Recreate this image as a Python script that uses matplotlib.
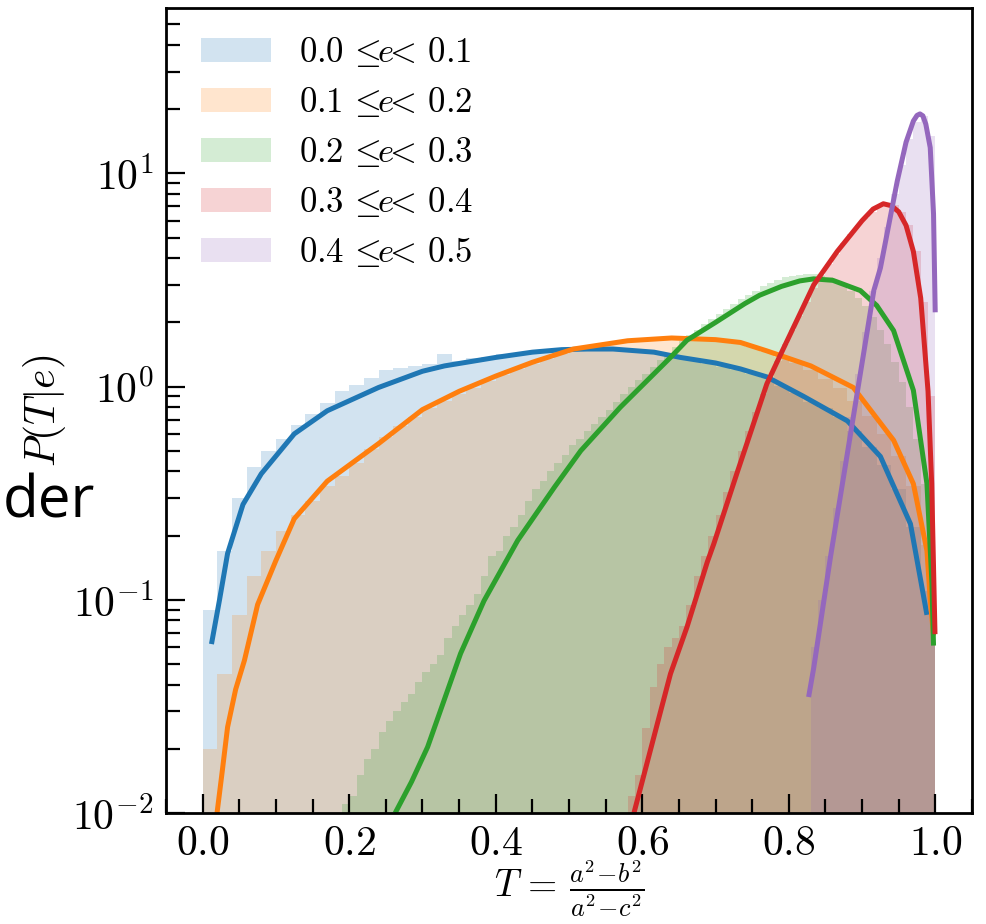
"""P(T|e) histograms with fitted curves, one per eccentricity bin."""

import matplotlib

matplotlib.use("Agg")
import matplotlib.pyplot as plt
from matplotlib.ticker import MultipleLocator

plt.rcParams["mathtext.fontset"] = "cm"
plt.rcParams["font.family"] = "serif"
plt.rcParams["font.serif"] = ["cmr10"]
plt.rcParams["axes.formatter.use_mathtext"] = True

LABELS = [
    r"$0.0\,\leq\!\!e\!\!<\,0.1$",
    r"$0.1\,\leq\!\!e\!\!<\,0.2$",
    r"$0.2\,\leq\!\!e\!\!<\,0.3$",
    r"$0.3\,\leq\!\!e\!\!<\,0.4$",
    r"$0.4\,\leq\!\!e\!\!<\,0.5$",
]
COLORS = ["tab:blue", "tab:orange", "tab:green", "tab:red", "tab:purple"]

# histograms: left edge of first bin, bin width, bin heights
HIST_BLUE_START, HIST_BLUE_W = 0.0, 0.02
HIST_BLUE = [0.09, 0.17, 0.30, 0.42, 0.50, 0.57, 0.66, 0.74, 0.84, 0.95,
             1.02, 1.10, 1.19, 1.22, 1.25, 1.27, 1.42, 1.32, 1.36, 1.38,
             1.42, 1.44, 1.46, 1.48, 1.50, 1.49, 1.50, 1.48, 1.47, 1.46,
             1.44, 1.40, 1.37, 1.33, 1.28, 1.24, 1.20, 1.15, 1.10, 1.01,
             0.93, 0.85, 0.79, 0.72, 0.62, 0.52, 0.43, 0.33, 0.22, 0.11]
HIST_ORANGE_START, HIST_ORANGE_W = 0.0, 0.02
HIST_ORANGE = [0.02, 0.045, 0.085, 0.13, 0.17, 0.21, 0.25, 0.29, 0.34, 0.38,
               0.44, 0.51, 0.58, 0.65, 0.72, 0.79, 0.86, 0.92, 0.99, 1.06,
               1.13, 1.21, 1.28, 1.35, 1.42, 1.48, 1.53, 1.58, 1.61, 1.64,
               1.66, 1.68, 1.68, 1.67, 1.65, 1.62, 1.58, 1.53, 1.46, 1.38,
               1.29, 1.19, 1.09, 0.98, 0.86, 0.73, 0.60, 0.47, 0.34, 0.18]
HIST_GREEN_START, HIST_GREEN_W = 0.19, 0.01
HIST_GREEN = [0.011, 0.012, 0.015, 0.018, 0.020, 0.024, 0.027, 0.030, 0.033, 0.036,
              0.041, 0.046, 0.050, 0.055, 0.066, 0.075, 0.085, 0.095, 0.107, 0.13,
              0.16, 0.17, 0.20, 0.22, 0.25, 0.29, 0.33, 0.36, 0.40, 0.44,
              0.48, 0.53, 0.57, 0.62, 0.67, 0.72, 0.78, 0.85, 0.92, 1.00,
              1.07, 1.15, 1.24, 1.33, 1.43, 1.53, 1.63, 1.74, 1.85, 1.97,
              2.08, 2.20, 2.32, 2.45, 2.58, 2.70, 2.82, 2.95, 3.05, 3.15,
              3.25, 3.30, 3.35, 3.38, 3.38, 3.33, 3.25, 3.12, 2.98, 2.80,
              2.60, 2.38, 2.12, 1.85, 1.58, 1.30, 1.05, 0.80, 0.57, 0.35,
              0.15]
HIST_RED_START, HIST_RED_W = 0.58, 0.01
HIST_RED = [0.012, 0.015, 0.025, 0.039, 0.050, 0.060, 0.066, 0.075, 0.095, 0.13,
            0.16, 0.20, 0.25, 0.32, 0.40, 0.50, 0.62, 0.76, 0.92, 1.10,
            1.32, 1.58, 1.85, 2.15, 2.50, 2.90, 3.30, 3.75, 4.20, 4.70,
            5.20, 5.70, 6.20, 6.60, 7.00, 7.20, 7.10, 6.60, 5.70, 4.30,
            2.50, 0.90]
HIST_PURPLE_START, HIST_PURPLE_W = 0.83, 0.01
HIST_PURPLE = [0.06, 0.10, 0.16, 0.27, 0.45, 0.72, 1.15, 1.80, 2.80, 4.00,
               5.60, 8.00, 11.0, 14.5, 17.5, 18.5, 15.0]

# fitted curves
FIT_BLUE_T = [0.012, 0.023, 0.034, 0.055, 0.080, 0.125, 0.170, 0.24, 0.30, 0.33,
              0.40, 0.45, 0.49, 0.525, 0.56, 0.616, 0.652, 0.70, 0.734, 0.77,
              0.82, 0.88, 0.925, 0.966, 0.9885]
FIT_BLUE_P = [0.062, 0.10, 0.165, 0.28, 0.39, 0.60, 0.77, 0.99, 1.18, 1.25,
              1.37, 1.45, 1.49, 1.50, 1.50, 1.45, 1.37, 1.29, 1.21, 1.11,
              0.90, 0.69, 0.47, 0.227, 0.085]
FIT_ORANGE_T = [0.0196, 0.027, 0.034, 0.045, 0.057, 0.075, 0.100, 0.125, 0.17, 0.24,
                0.30, 0.35, 0.40, 0.45, 0.506, 0.58, 0.64, 0.70, 0.734, 0.77,
                0.83, 0.888, 0.943, 0.970, 0.9885, 0.993, 0.9975]
FIT_ORANGE_P = [0.01, 0.016, 0.0253, 0.038, 0.052, 0.095, 0.153, 0.24, 0.36, 0.54,
                0.78, 0.95, 1.12, 1.30, 1.50, 1.64, 1.69, 1.66, 1.61, 1.47,
                1.25, 0.99, 0.56, 0.35, 0.17, 0.10, 0.068]
FIT_GREEN_T = [0.2627, 0.285, 0.307, 0.352, 0.384, 0.43, 0.48, 0.516, 0.57, 0.6385,
               0.661, 0.70, 0.74, 0.76, 0.79, 0.815, 0.834, 0.86, 0.8976, 0.92,
               0.943, 0.970, 0.9885, 0.9953, 0.9975]
FIT_GREEN_P = [0.01, 0.014, 0.0204, 0.056, 0.099, 0.19, 0.337, 0.50, 0.80, 1.37,
               1.65, 2.0, 2.45, 2.68, 2.95, 3.13, 3.2, 3.15, 2.82, 2.4,
               1.83, 0.96, 0.35, 0.12, 0.061]
FIT_RED_T = [0.5886, 0.625, 0.6385, 0.661, 0.6886, 0.6976, 0.73, 0.77, 0.789, 0.834,
             0.866, 0.90, 0.915, 0.929, 0.94, 0.95, 0.96, 0.970, 0.98, 0.99,
             0.995, 0.9995]
FIT_RED_P = [0.01, 0.030, 0.045, 0.0745, 0.15, 0.183, 0.40, 1.03, 1.42, 3.0,
             4.3, 6.0, 6.8, 7.2, 7.05, 6.6, 5.7, 4.3, 2.6, 0.95,
             0.35, 0.069]
FIT_PURPLE_T = [0.827, 0.834, 0.857, 0.888, 0.8976, 0.916, 0.925, 0.948, 0.96, 0.97,
                0.975, 0.979, 0.983, 0.987, 0.993, 0.9975, 0.9998]
FIT_PURPLE_P = [0.035, 0.048, 0.16, 0.72, 1.15, 2.82, 3.6, 9.2, 14.0, 17.6,
                18.7, 19.0, 18.6, 17.0, 13.2, 6.45, 2.23]


def _edges(start, width, n):
    return [start + i * width for i in range(n + 1)]


def render(out_path="out.png"):
    hists = [
        (HIST_BLUE_START, HIST_BLUE_W, HIST_BLUE),
        (HIST_ORANGE_START, HIST_ORANGE_W, HIST_ORANGE),
        (HIST_GREEN_START, HIST_GREEN_W, HIST_GREEN),
        (HIST_RED_START, HIST_RED_W, HIST_RED),
        (HIST_PURPLE_START, HIST_PURPLE_W, HIST_PURPLE),
    ]
    fits = [
        (FIT_BLUE_T, FIT_BLUE_P),
        (FIT_ORANGE_T, FIT_ORANGE_P),
        (FIT_GREEN_T, FIT_GREEN_P),
        (FIT_RED_T, FIT_RED_P),
        (FIT_PURPLE_T, FIT_PURPLE_P),
    ]

    fig = plt.figure(figsize=(9.86, 9.24), dpi=100)
    ax = fig.add_axes([0.1684, 0.1201, 0.8174, 0.8712])

    for (start, w, vals), color, label in zip(hists, COLORS, LABELS):
        ax.stairs(vals, _edges(start, w, len(vals)), baseline=1e-3, fill=True,
                  color=color, alpha=0.2, linewidth=0, label=label)
    for (t, p), color in zip(fits, COLORS):
        ax.plot(t, p, color=color, linewidth=3.6, solid_capstyle="butt",
                solid_joinstyle="round")

    ax.set_yscale("log")
    ax.set_ylim(1e-2, 59.6)
    ax.set_xlim(-0.05, 1.05)
    ax.xaxis.set_major_locator(MultipleLocator(0.2))
    ax.xaxis.set_minor_locator(MultipleLocator(0.05))
    ax.xaxis.set_major_formatter(plt.FuncFormatter(lambda v, _: f"${v:.1f}$"))

    ax.tick_params(which="both", direction="in", top=False, right=False,
                   labelsize=30, width=1.6, pad=9)
    ax.tick_params(which="major", length=13.5)
    ax.tick_params(which="minor", length=10)
    for s in ax.spines.values():
        s.set_linewidth(2.0)

    ax.set_xlabel(r"$T\,=\,\frac{a^2\!-\!b^2}{a^2\!-\!c^2}$", fontsize=27, labelpad=-3)
    ax.set_ylabel(r"$P(T|e)$", fontsize=30)
    ax.yaxis.set_label_coords(-0.122, 0.5)

    ax.legend(loc="upper left", frameon=False, fontsize=25,
              labelspacing=0.46, borderaxespad=0.5,
              bbox_to_anchor=(0.005, 1.005))

    # stray word from the slide this plot was cut from
    fig.text(0.003, 1 - 517 / 924, "der", fontsize=42, family="Open Sans",
             va="baseline", ha="left")

    fig.savefig(out_path, dpi=100)
    plt.close(fig)


render()
